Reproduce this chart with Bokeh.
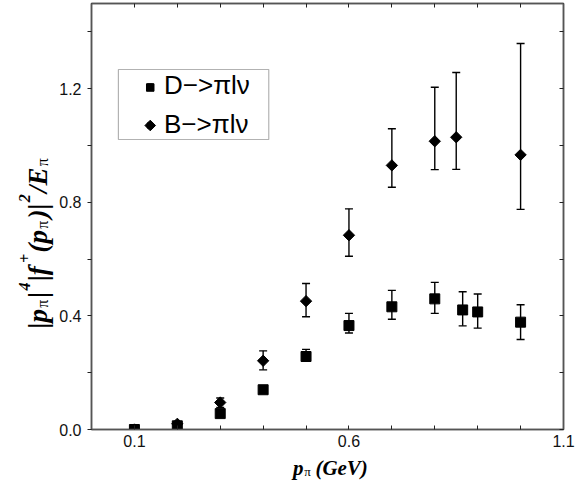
import numpy as np
from bokeh.plotting import figure
from bokeh.layouts import row, column
from bokeh.models import (ColumnDataSource, Whisker, TeeHead, Range1d, FixedTicker,
                          PrintfTickFormatter, LinearAxis, Legend, LegendItem, Label,
                          BoxAnnotation)
from bokeh.embed import file_html
from bokeh.resources import INLINE

# ---------------- data ----------------
d_p = [0.1, 0.2, 0.3, 0.4, 0.5, 0.6, 0.7, 0.8, 0.865, 0.9, 1.0]
d_val = [0.0, 0.013, 0.056, 0.140, 0.257, 0.366, 0.432, 0.460, 0.421, 0.414, 0.378]
d_upper = [0.0, 0.016, 0.062, 0.150, 0.282, 0.409, 0.490, 0.518, 0.485, 0.477, 0.439]
d_lower = [0.0, 0.010, 0.050, 0.130, 0.240, 0.340, 0.388, 0.409, 0.365, 0.357, 0.317]

b_p = [0.1, 0.2, 0.3, 0.4, 0.5, 0.6, 0.7, 0.8, 0.85, 1.0]
b_val = [0.0, 0.020, 0.095, 0.242, 0.452, 0.684, 0.930, 1.015, 1.029, 0.967]
b_upper = [0.0, 0.025, 0.111, 0.277, 0.514, 0.777, 1.059, 1.205, 1.257, 1.359]
b_lower = [0.0, 0.015, 0.078, 0.210, 0.397, 0.610, 0.853, 0.915, 0.916, 0.775]

x_major = [0.1, 0.6, 1.1]
x_minor = [0.0, 0.2, 0.3, 0.4, 0.5, 0.7, 0.8, 0.9, 1.0]
y_major = [0.0, 0.4, 0.8, 1.2]
y_minor = [0.2, 0.6, 1.0, 1.4]

legend_labels = ["D\u2212>\u03c0l\u03bd", "B\u2212>\u03c0l\u03bd"]

# ---------------- layout sizes ----------------
TITLE_W = 56
MAIN_W_PX = 576 - TITLE_W
MAIN_H_PX = 453
XTITLE_H = 483 - MAIN_H_PX

# ---------------- main figure ----------------
AX = "#555555"
p = figure(width=MAIN_W_PX, height=MAIN_H_PX, output_backend="svg", toolbar_location=None,
           title=None, x_range=Range1d(0.0, 1.1), y_range=Range1d(0.0, 1.5),
           min_border_left=89 - TITLE_W, min_border_right=13, min_border_top=3,
           min_border_bottom=24)
p.grid.visible = False
p.outline_line_color = AX
p.outline_line_width = 1.5

def style_axis(ax, ticks, minor, tin, tout):
    ax.ticker = FixedTicker(ticks=ticks, minor_ticks=minor)
    ax.axis_line_color = AX
    ax.axis_line_width = 1.5
    ax.major_tick_line_color = "#222222"
    ax.minor_tick_line_color = "#222222"
    ax.major_tick_in = tin
    ax.major_tick_out = tout
    ax.minor_tick_in = tin
    ax.minor_tick_out = tout
    ax.major_tick_line_width = 1
    ax.minor_tick_line_width = 1
    ax.formatter = PrintfTickFormatter(format="%.1f")
    ax.major_label_text_font = "Liberation Sans"
    ax.major_label_text_font_size = "16px"
    ax.major_label_text_color = "#111111"

style_axis(p.xaxis[0], x_major, x_minor, 4, 0)
p.xaxis[0].major_label_standoff = 5
style_axis(p.yaxis[0], y_major, y_minor, 0, 4)
p.yaxis[0].major_label_standoff = 6

# top / right frame axes: ticks only (all as minor ticks, so no labels)
top_ax = LinearAxis()
style_axis(top_ax, [], sorted(x_major + x_minor), 4, 0)
top_ax.major_label_standoff = 0
right_ax = LinearAxis()
style_axis(right_ax, [], sorted(y_major + y_minor), 4, 0)
right_ax.major_label_standoff = 0
p.add_layout(top_ax, "above")
p.add_layout(right_ax, "right")

# ---------------- data glyphs ----------------
src_d = ColumnDataSource(dict(x=d_p, y=d_val, upper=d_upper, lower=d_lower))
src_b = ColumnDataSource(dict(x=b_p, y=b_val, upper=b_upper, lower=b_lower))

for src in (src_d, src_b):
    w = Whisker(source=src, base="x", upper="upper", lower="lower",
                line_color="black", line_width=1.4,
                upper_head=TeeHead(size=8, line_color="black", line_width=1.4),
                lower_head=TeeHead(size=8, line_color="black", line_width=1.4))
    p.add_layout(w)

rd = p.scatter("x", "y", source=src_d, marker="square", size=10,
               fill_color="black", line_color="black")
rb = p.scatter("x", "y", source=src_b, marker="square", size=8, angle=np.pi / 4,
               fill_color="black", line_color="black")

# ---------------- legend ----------------
legend = Legend(items=[LegendItem(label=legend_labels[0], renderers=[rd]),
                       LegendItem(label=legend_labels[1], renderers=[rb])],
                location=(52, 289), padding=0, margin=0, spacing=8,
                glyph_width=13, glyph_height=30, label_height=30,
                label_standoff=8, label_text_font="Liberation Sans",
                label_text_font_size="26px", label_text_color="black",
                border_line_color=None, background_fill_alpha=0)
p.add_layout(legend)
p.add_layout(BoxAnnotation(left=0.0627, right=0.4131, bottom=1.0211, top=1.2676,
                           fill_alpha=0, line_color="black", line_width=1.2))
# legend symbols drawn at full size over the legend's own (small) glyphs
leg_src = ColumnDataSource(dict(x=[0.1369, 0.1369], y=[1.2042, 1.0704],
                                marker=["square", "square"], size=[7.5, 7.5],
                                angle=[0.0, np.pi / 4]))
p.scatter("x", "y", source=leg_src, marker="marker", size="size", angle="angle",
          fill_color="black", line_color="black")

# ---------------- axis titles built from pieces ----------------
MAIN_W = {'|': 0.22, 'p': 0.5, 'f': 0.333, '(': 0.333, ')': 0.333, '/': 0.278,
          'E': 0.667, 'G': 0.722, 'e': 0.444, 'V': 0.667, ' ': 0.25}
SMALL_W = {'\u03c0': 0.55, '4': 0.5, '2': 0.5, '+': 0.57}

def piece_width(txt, kind, fmain, fsmall):
    if kind == "main":
        return sum(MAIN_W[c] for c in txt) * fmain
    return sum(SMALL_W[c] for c in txt) * fsmall

def add_title(fig, pieces, x0, y0, vertical, fmain, fsmall, sub_shift, sup_shift, gap):
    pos = 0.0
    for txt, kind, extra in pieces:
        style = "bold italic"
        size = fmain
        shift = 0
        if kind == "sub":
            style = "normal"
            size = fsmall
            shift = sub_shift
        elif kind == "sup":
            size = fsmall
            shift = sup_shift
        if vertical:
            x, y, ang = x0 + shift, y0 + pos, np.pi / 2
        else:
            x, y, ang = x0 + pos, y0 - shift, 0
        fig.add_layout(Label(x=x, y=y, text=txt, angle=ang,
                             text_font="Liberation Serif", text_font_style=style,
                             text_font_size=f"{size}px", text_color="black",
                             text_align="left", text_baseline="alphabetic"))
        pos += piece_width(txt, kind, fmain, fsmall) + gap + extra

def title_fig(w, h):
    f = figure(width=w, height=h, output_backend="svg", toolbar_location=None,
               title=None, x_range=Range1d(0, w), y_range=Range1d(0, h), min_border=0,
               x_axis_location=None, y_axis_location=None)
    f.grid.visible = False
    f.outline_line_color = None
    return f

ty = title_fig(TITLE_W, 483)
y_title = [("|p", "main", 0), ("\u03c0", "sub", 0), ("|", "main", 0), ("4", "sup", 0),
           ("|f", "main", 2), ("+", "sup", 0), ("(p", "main", 0), ("\u03c0", "sub", 0),
           (")|", "main", 0), ("2", "sup", 0), ("/E", "main", 0), ("\u03c0", "sub", 0)]
add_title(ty, y_title, 37, 155, True, 27, 16, 5, -13, 1.3)

tx = title_fig(MAIN_W_PX, XTITLE_H)
x_title = [("p", "main", 1), ("\u03c0", "sub", 4), ("(GeV)", "main", 0)]
add_title(tx, x_title, 278 - TITLE_W, 16, False, 21, 13, 4, -10, 1)

layout = row(ty, column(p, tx))
open("out.html", "w").write(file_html(layout, INLINE))
